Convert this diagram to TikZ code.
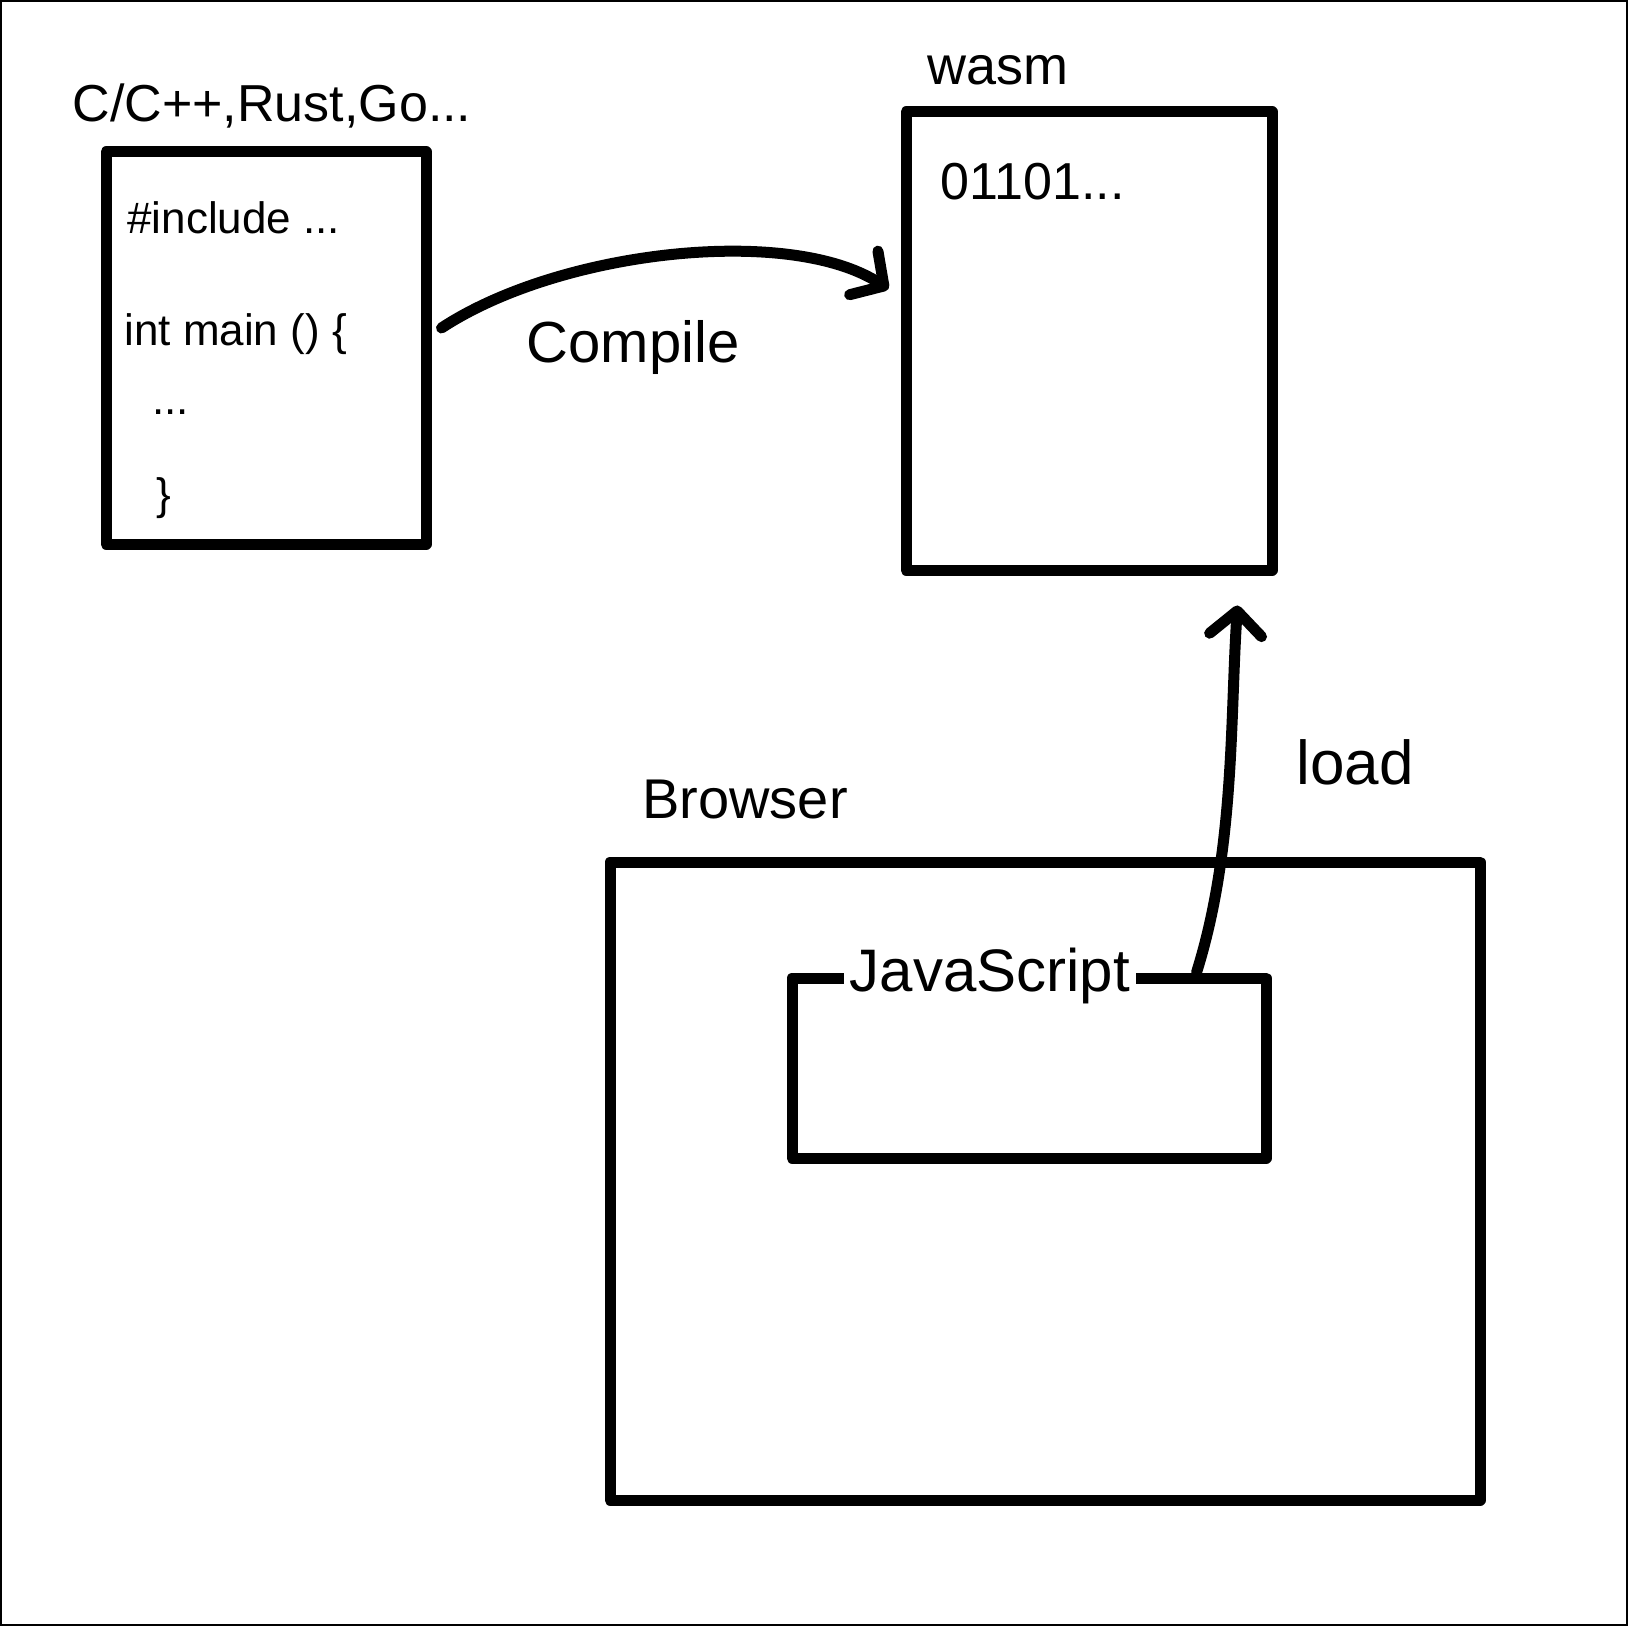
\documentclass[tikz,border=0pt]{standalone}
\usepackage{fontspec}
\setmainfont{Liberation Sans}
\usetikzlibrary{arrows.meta,calc}
\begin{document}
\begin{tikzpicture}[x=0.5pt,y=-0.5pt,
  box/.style={draw, line width=5.5pt, line join=round, inner sep=0pt},
  lbl/.style={inner sep=1pt, anchor=center},
  arr/.style={line width=5.5pt, line cap=round, -{Straight Barb[length=12pt,width=26pt,line width=5.5pt,line cap=round,line join=round]}}]
\useasboundingbox (0,0) rectangle (1628,1626);
\draw[line width=1pt] (1,1) rectangle (1627,1625);
% boxes
\node[box, minimum width=160pt, minimum height=196pt] (src) at (266,348) {};
\node[box, minimum width=183pt, minimum height=229pt] (wasm) at (1089,341) {};
\node[box, minimum width=435pt, minimum height=319pt] (browser) at (1045,1181) {};
\node[box, minimum width=237pt, minimum height=90pt] (js) at (1029,1068) {};
% titles
\node[lbl, font=\fontsize{26}{29}\selectfont] (srct) at (272,106) {C/C++,Rust,Go...};
\node[lbl, font=\fontsize{27}{30}\selectfont] (wasmt) at (998,70) {wasm};
\node[lbl, font=\fontsize{28}{31}\selectfont] (browt) at (745,800) {Browser};
\node[lbl, fill=white, inner xsep=3pt, font=\fontsize{30}{33}\selectfont] (jst) at (990,976) {JavaScript};
% code
\node[lbl, anchor=west, font=\fontsize{22}{25}\selectfont] (c1) at (125,218) {\#include ...};
\node[lbl, anchor=west, font=\fontsize{22}{25}\selectfont] (c2) at (122,334) {int main () \{};
\node[lbl, anchor=west, font=\fontsize{22}{25}\selectfont] (c3) at (150,412) {...};
\node[lbl, anchor=west, font=\fontsize{22}{25}\selectfont] (c4) at (154,498) {\}};
\node[lbl, anchor=west, font=\fontsize{26}{29}\selectfont] (b1) at (938,182) {01101...};
% arrows
\draw[arr] ($(src.east)+(10,-20)$) .. controls (560,250) and (790,225) .. ($(wasm.west)+(-12,-52)$);
\node[lbl, font=\fontsize{29}{32}\selectfont] (compile) at (633,348) {Compile};
\draw[arr] ($(js.north east)+(-75,0)$) .. controls (1235,850) and (1230,720) .. ($(wasm.south east)+(-40,30)$);
\node[lbl, font=\fontsize{31}{34}\selectfont] (load) at (1355,762) {load};
\end{tikzpicture}
\end{document}
